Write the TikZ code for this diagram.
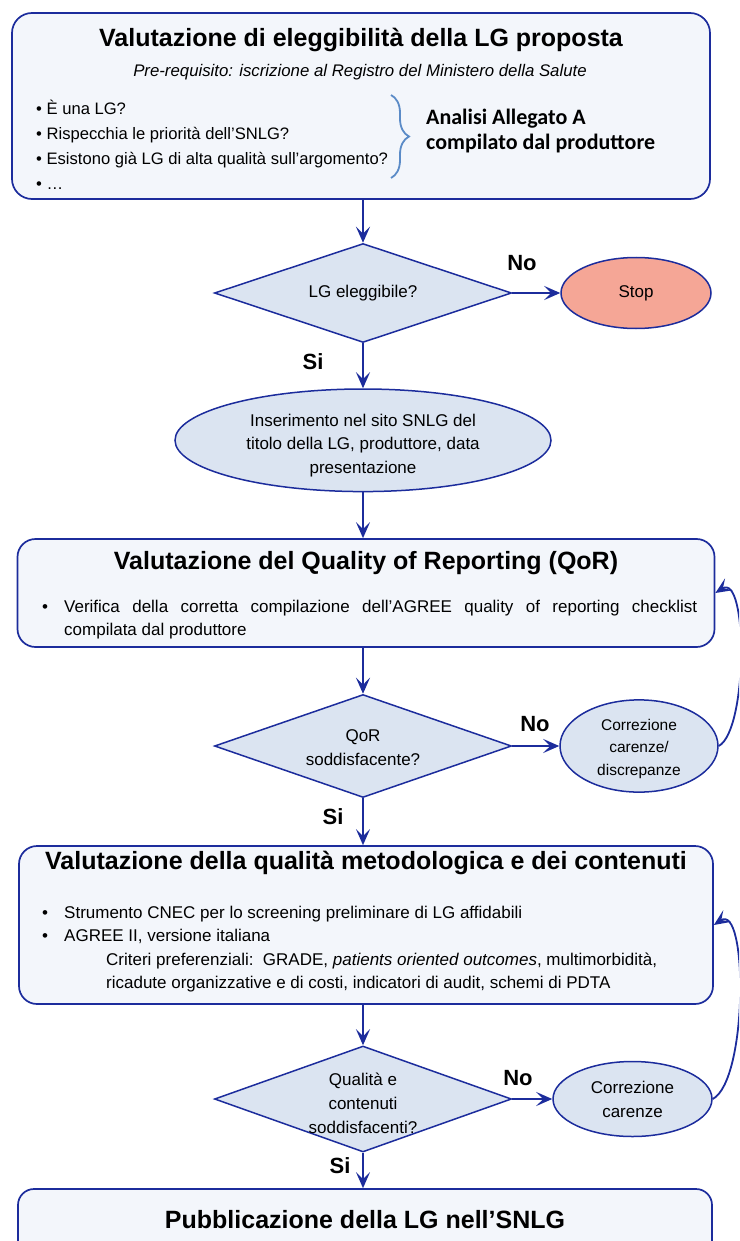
\documentclass[tikz,border=0pt]{standalone}
\usepackage{fontspec}
\setmainfont{Liberation Sans}
\newfontfamily\calfont{Carlito}
\usetikzlibrary{shapes.geometric, arrows.meta, positioning, decorations.pathreplacing}
\definecolor{bordo}{HTML}{1C2C9C}
\definecolor{boxfill}{HTML}{F3F6FB}
\definecolor{dfill}{HTML}{DBE4F1}
\definecolor{stopfill}{HTML}{F5A696}
\definecolor{brace}{HTML}{5B8BC7}
\newcommand{\titolo}[1]{{\fontsize{25}{30}\selectfont\bfseries #1}}
\newcommand{\pt}{\llap{\makebox[22pt][l]{•}}}
\newcommand{\giu}[1]{\rule{0pt}{#1}}

\begin{document}
\begin{tikzpicture}[x=1pt, y=-1pt, inner sep=0pt,
  fase/.style={draw=bordo, line width=1.7pt, fill=boxfill, rounded corners=20pt},
  decision/.style={diamond, aspect=2.8, inner sep=-6pt, draw=bordo, fill=dfill, line width=1.5pt,
    minimum width=297pt, align=center, font=\fontsize{17}{24}\selectfont},
  esito/.style={ellipse, draw=bordo, fill=dfill, line width=1.5pt, align=center},
  arr/.style={draw=bordo, line width=1.8pt, -{Stealth[length=16pt, width=14pt, inset=7pt]}},
  risp/.style={font=\fontsize{22}{26}\selectfont\bfseries},
  corpo/.style={anchor=west, align=left, font=\fontsize{17}{24}\selectfont},
  ]
  \useasboundingbox (0,0) rectangle (739,1241);
  \clip (0,0) rectangle (739,1241);

  % eleggibilita
  \node[fase, minimum width=698pt, minimum height=186pt] (elig) at (361,106) {};
  \node (eligT) at (361,40) {\titolo{Valutazione di eleggibilità della LG proposta}};
  \node (eligS) at (360,72) {\fontsize{16.8}{20}\selectfont\itshape Pre-requisito: iscrizione al Registro del Ministero della Salute};
  \node[corpo, font=\fontsize{16.6}{24.8}\selectfont] (eligL) at (36,145)
    {• È una LG?\\ • Rispecchia le priorità dell’SNLG?\\ • Esistono già LG di alta qualità sull’argomento?\\ • …};
  \coordinate (brA) at (391,95);
  \coordinate (brB) at (391,178);
  \draw[brace, line width=1.8pt, decorate, decoration={brace, amplitude=18pt, aspect=0.5}] (brA) -- (brB);
  \node[corpo, font=\calfont\fontsize{22}{25}\selectfont\bfseries] (allA) at (426,131)
    {Analisi Allegato A\\compilato dal produttore};

  \node[decision, minimum height=99pt] (decElig) at (363,293) {LG eleggibile?};
  \node[esito, fill=stopfill, minimum width=150pt, minimum height=71pt,
    font=\fontsize{17}{24}\selectfont, right=48pt of decElig] (stop) {Stop};
  \node[esito, minimum width=376pt, minimum height=102pt,
    font=\fontsize{17}{23.5}\selectfont, below=45pt of decElig] (insert)
    {\giu{22pt}Inserimento nel sito SNLG del\\titolo della LG, produttore, data\\presentazione};

  % quality of reporting
  \node[fase, rounded corners=18pt, minimum width=697pt, minimum height=108pt] (qor) at (366,593) {};
  \node (qorT) at (366,563) {\titolo{Valutazione del Quality of Reporting (QoR)}};
  \node[anchor=west, text width=633pt, align=justify, font=\fontsize{17}{23}\selectfont] (qorL) at (64,620)
    {\pt Verifica della corretta compilazione dell’AGREE quality of reporting checklist\linebreak compilata dal produttore};

  \node[decision, minimum height=103pt] (decQor) at (363,746) {\giu{16pt}QoR\\soddisfacente?};
  \node[esito, minimum width=158pt, minimum height=75pt,
    font=\fontsize{15.5}{22.5}\selectfont, right=47pt of decQor] (corrQor)
    {\giu{17pt}Correzione\\carenze/\\discrepanze};

  % qualita metodologica
  \node[fase, rounded corners=18pt, minimum width=694pt, minimum height=158pt] (qual) at (366,925) {};
  \node (qualT) at (366,863) {\titolo{Valutazione della qualità metodologica e dei contenuti}};
  \node[corpo, font=\fontsize{17}{23.6}\selectfont] (qualL) at (64,949)
    {\pt Strumento CNEC per lo screening preliminare di LG affidabili\\
     \pt AGREE II, versione italiana\\
     \hspace*{42pt}Criteri preferenziali:\ \ GRADE, \textit{patients oriented outcomes}, multimorbidità,\\
     \hspace*{42pt}ricadute organizzative e di costi, indicatori di audit, schemi di PDTA};

  \node[decision, minimum height=106pt] (decQual) at (363,1099) {\giu{22pt}Qualità e\\contenuti\\soddisfacenti?};
  \node[esito, minimum width=159pt, minimum height=75pt,
    font=\fontsize{17}{24}\selectfont, right=40pt of decQual] (corrQual)
    {Correzione\\carenze};

  % pubblicazione
  \node[fase, rounded corners=16pt, minimum width=694pt, minimum height=84pt] (pub) at (365,1231) {};
  \node (pubT) at (365,1220) {\titolo{Pubblicazione della LG nell’SNLG}};

  % connettori
  \draw[arr] (decElig.north |- elig.south) -- (decElig.north);
  \draw[arr] (decElig) -- (stop);
  \draw[arr] (decElig) -- (insert);
  \draw[arr] (insert) -- (insert.south |- qor.north);
  \draw[arr] (decQor.north |- qor.south) -- (decQor.north);
  \draw[arr] (decQor) -- (corrQor);
  \draw[arr] (decQor.south) -- (decQor.south |- qual.north);
  \draw[arr] (decQual.north |- qual.south) -- (decQual.north);
  \draw[arr] (decQual) -- (corrQual);
  \draw[arr] (decQual.south) -- (decQual.south |- pub.north);
  \draw[arr] (corrQor.east) .. controls (748,730) and (748,572) .. (qor.east);
  \draw[arr] (corrQual.east) .. controls (748,1080) and (748,902) .. (qual.east);

  \node[risp] (no1) at (522,263) {No};
  \node[risp] (si1) at (313,362) {Si};
  \node[risp] (no2) at (535,724) {No};
  \node[risp] (si2) at (333,817) {Si};
  \node[risp] (no3) at (518,1078) {No};
  \node[risp] (si3) at (340,1166) {Si};
\end{tikzpicture}
\end{document}
